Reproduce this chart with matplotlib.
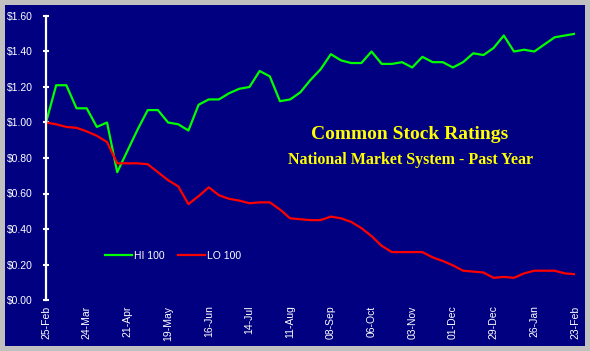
import numpy as np
import matplotlib
matplotlib.use("Agg")
import matplotlib.pyplot as plt
from matplotlib.patches import Rectangle

# weekly index values, 25-Feb .. 23-Feb
hi_100 = [1.00, 1.21, 1.21, 1.08, 1.08, 0.975, 1.00, 0.72, 0.84, 0.96,
          1.07, 1.07, 1.00, 0.99, 0.955, 1.10, 1.13, 1.13, 1.165, 1.19,
          1.20, 1.29, 1.26, 1.12, 1.13, 1.17, 1.24, 1.30, 1.385, 1.35,
          1.335, 1.335, 1.40, 1.33, 1.33, 1.34, 1.31, 1.37, 1.34, 1.34,
          1.31, 1.34, 1.39, 1.38, 1.42, 1.49, 1.40, 1.41, 1.40, 1.44,
          1.48, 1.49, 1.50]
lo_100 = [1.00, 0.99, 0.975, 0.97, 0.95, 0.925, 0.89, 0.77, 0.77, 0.77,
          0.765, 0.72, 0.675, 0.64, 0.54, 0.585, 0.635, 0.59, 0.57, 0.56,
          0.545, 0.55, 0.55, 0.51, 0.46, 0.455, 0.45, 0.45, 0.47, 0.46,
          0.44, 0.405, 0.36, 0.305, 0.27, 0.27, 0.27, 0.27, 0.24, 0.22,
          0.195, 0.165, 0.16, 0.155, 0.125, 0.13, 0.125, 0.15, 0.165, 0.165,
          0.165, 0.15, 0.145]
date_labels = ["25-Feb", "24-Mar", "21-Apr", "19-May", "16-Jun", "14-Jul",
               "11-Aug", "08-Sep", "06-Oct", "03-Nov", "01-Dec", "29-Dec",
               "26-Jan", "23-Feb"]
y_ticks = [0.0, 0.2, 0.4, 0.6, 0.8, 1.0, 1.2, 1.4, 1.6]

weeks = np.arange(len(hi_100))
navy = "#000080"

plt.rcParams['font.family'] = ['Liberation Sans', 'DejaVu Sans']

fig = plt.figure(figsize=(5.9, 3.51), dpi=100, facecolor="#c0c0c0")
fig.patches.append(Rectangle((5 / 590, 5 / 351), 580 / 590, 341 / 351,
                             transform=fig.transFigure, facecolor=navy,
                             edgecolor="none", zorder=-5))
ax = fig.add_axes([46 / 590, 51 / 351, 529 / 590, 284 / 351])
ax.set_facecolor("none")

ax.plot(weeks, hi_100, color="#00ff00", lw=1.6, label="HI 100")
ax.plot(weeks, lo_100, color="#ff0000", lw=1.6, label="LO 100")

ax.set_xlim(0, 52)
ax.set_ylim(0, 1.6)
ax.set_yticks(y_ticks)
ax.set_yticklabels(["$%.2f" % v for v in y_ticks])
ax.set_xticks(weeks[::4])
ax.set_xticklabels(date_labels, rotation=90)

for s in ["top", "right", "bottom"]:
    ax.spines[s].set_visible(False)
ax.spines["left"].set_color("white")
ax.spines["left"].set_linewidth(1.6)
ax.tick_params(axis="y", colors="white", direction="inout", length=5,
               width=1.5, pad=7, labelsize=7.5)
ax.tick_params(axis="x", colors="white", length=0, pad=4, labelsize=7.5)

ax.text(0.688, 0.581, "Common Stock Ratings", transform=ax.transAxes,
        ha="center", va="center", color="yellow", fontsize=14,
        fontweight="bold", family="Liberation Serif")
ax.text(0.69, 0.493, "National Market System - Past Year",
        transform=ax.transAxes, ha="center", va="center", color="yellow",
        fontsize=11.5, fontweight="bold", family="Liberation Serif")

leg = ax.legend(loc="center", bbox_to_anchor=(0.24, 0.155), ncol=2,
                frameon=False, fontsize=7.5, handlelength=2.6,
                handletextpad=0.2, columnspacing=1.3)
for t in leg.get_texts():
    t.set_color("white")

plt.savefig("out.png", dpi=100, facecolor=fig.get_facecolor())
